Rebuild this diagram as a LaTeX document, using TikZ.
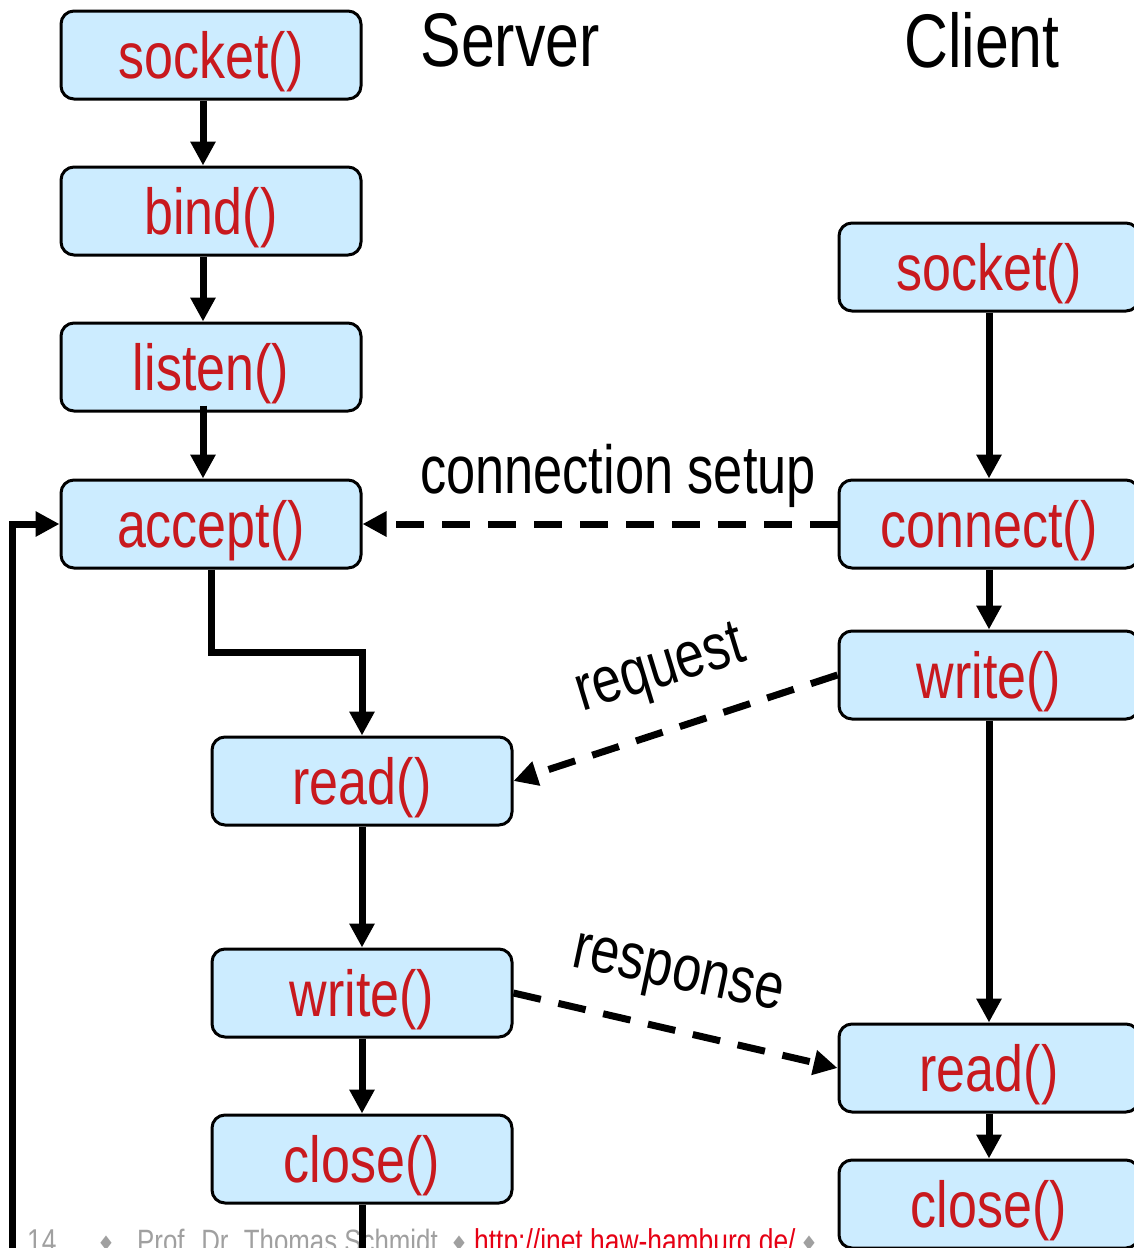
\documentclass[tikz,border=0pt]{standalone}
\usepackage{fontspec}
\setmainfont{Liberation Sans}
\newfontfamily\cf[FakeStretch=0.8]{Liberation Sans}
\newfontfamily\cfn[FakeStretch=0.77]{Liberation Sans}
\newfontfamily\djv{DejaVu Sans}
\usetikzlibrary{arrows.meta}
\definecolor{boxfill}{RGB}{204,236,255}
\definecolor{txtred}{RGB}{200,25,30}
\definecolor{footgray}{RGB}{160,160,160}
\definecolor{footred}{RGB}{230,0,20}
\begin{document}
\begin{tikzpicture}[x=1pt,y=-1pt,
 box/.style={draw=black, line width=3pt, fill=boxfill, rounded corners=13pt,
   minimum width=300pt, minimum height=88pt, inner sep=0pt,
   font=\cf\fontsize{65}{65}\selectfont, text=txtred, text height=47pt, text depth=0pt},
 arr/.style={line width=7pt, -{Triangle[length=24pt,width=24pt]}},
 darr/.style={arr, dash pattern=on 28pt off 18pt},
 lbl/.style={font=\cf\fontsize{65}{65}\selectfont, text=black, inner sep=0pt},
 ttl/.style={font=\cf\fontsize{76}{76}\selectfont, text=black, inner sep=0pt},
 foot/.style={font=\cf\fontsize{33}{33}\selectfont, inner sep=0pt, anchor=base west},
 dmd/.style={font=\djv\fontsize{20}{20}\selectfont, text=footgray, inner sep=0pt},
]
\useasboundingbox (0,0) rectangle (1134,1248);
\clip (0,0) rectangle (1134,1248);
\fill[white] (0,0) rectangle (1134,1248);

% footer
\node[foot, text=footgray] (f14) at (27,1252) {14};
\node[dmd] (d1) at (106,1243) {♦};
\node[foot, text=footgray, font=\cf\fontsize{32.3}{33}\selectfont] (fprof) at (137,1252) {Prof. Dr. Thomas Schmidt};
\node[dmd] (d2) at (459,1243) {♦};
\node[foot, text=footred] (furl) at (474,1252) {http://inet.haw-hamburg.de/};
\node[dmd] (d3) at (809,1243) {♦};

% titles
\node[ttl] (tserver) at (510,40) {Server};
\node[ttl] (tclient) at (982,40) {Client};

% server boxes
\node[box] (ssock) at (211,55) {socket()};
\node[box] (sbind) at (211,211) {bind()};
\node[box] (slisten) at (211,367) {listen()};
\node[box] (acc) at (211,524) {accept()};
\node[box] (sread) at (362,781) {read()};
\node[box] (swrite) at (362,993) {write()};
\node[box] (sclose) at (362,1159) {close()};

% client boxes
\node[box] (csock) at (989,267) {socket()};
\node[box] (conn) at (989,524) {connect()};
\node[box] (cwrite) at (989,675) {write()};
\node[box] (cread) at (989,1068) {read()};
\node[box] (cclose) at (989,1204) {close()};

\coordinate (sbot) at (362,1260);
\coordinate (lbot) at (12,1260);

% server arrows
\draw[arr] ([xshift=-8pt]ssock.south) -- ([xshift=-8pt]sbind.north);
\draw[arr] ([xshift=-8pt]sbind.south) -- ([xshift=-8pt]slisten.north);
\draw[arr] ([xshift=-8pt,yshift=7pt]slisten.south) -- ([xshift=-8pt]acc.north);
\draw[arr] (acc.south) -- ++(0,83) -| (sread.north);
\draw[arr] (sread.south) -- (swrite.north);
\draw[arr] (swrite.south) -- (sclose.north);
\draw[line width=7pt] (sclose.south) -- (sbot);
\draw[arr] (lbot) |- (acc.west);

% client arrows
\draw[arr] (csock.south) -- (conn.north);
\draw[arr] (conn.south) -- (cwrite.north);
\draw[arr] (cwrite.south) -- (cread.north);
\draw[arr] (cread.south) -- (cclose.north);

% messages
\draw[darr] (conn.west) -- (acc.east);
\draw[darr] (cwrite.west) -- (sread.east);
\draw[darr] (swrite.east) -- (cread.west);

\node[lbl, font=\cfn\fontsize{68}{68}\selectfont] (lconn) at (618,476) {connection setup};
\node[lbl, rotate=17] (lreq) at (661,672) {request};
\node[lbl, rotate=-12] (lresp) at (677,978) {response};
\end{tikzpicture}
\end{document}
